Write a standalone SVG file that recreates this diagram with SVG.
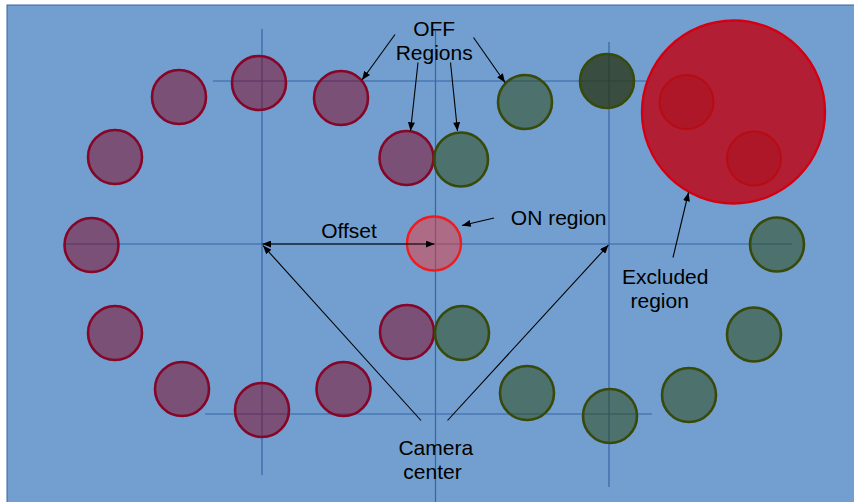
<svg xmlns="http://www.w3.org/2000/svg" width="854" height="502" viewBox="0 0 854 502">
<style>
text{font-family:"Liberation Sans",Arial,sans-serif;font-size:21px;fill:#000}
.ax{stroke:#3465a4;stroke-width:1.2;fill:none}
.off{fill:#82011f;fill-opacity:0.5;stroke:#870526;stroke-width:2.6}
.gr{fill:#2f4a1c;fill-opacity:0.55;stroke:#384a0a;stroke-width:2.6}
.gd{fill:#2a3a1c;fill-opacity:0.8;stroke:#384a0a;stroke-width:2.6}
.on{fill:#e8383b;fill-opacity:0.5;stroke:#ee1c1c;stroke-width:2.4}
.ex{fill:#b5182c;fill-opacity:0.95;stroke:#d40012;stroke-width:2.4}
.exi{fill:#a8101a;fill-opacity:0.5;stroke:#b80c14;stroke-width:2}
.ar{stroke:#000;stroke-width:1.1;fill:none;marker-end:url(#ah)}
</style>
<defs>
<marker id="ah" viewBox="0 0 10 8" refX="10" refY="4" markerWidth="9" markerHeight="7" markerUnits="userSpaceOnUse" orient="auto-start-reverse">
<path d="M0,0 L10,4 L0,8 z" fill="#000"/>
</marker>
</defs>
<rect x="7" y="5" width="860" height="510" fill="#729fcf" stroke="#3465a4" stroke-width="1"/>
<g id="axes">
<line class="ax" x1="262" y1="29" x2="262" y2="475"/>
<line class="ax" x1="435.5" y1="31" x2="435.5" y2="502"/>
<line class="ax" x1="609" y1="42" x2="609" y2="487"/>
<line class="ax" x1="213" y1="81" x2="660" y2="81"/>
<line class="ax" x1="65" y1="244" x2="792" y2="244"/>
<line class="ax" x1="205" y1="414" x2="652" y2="414"/>
</g>
<g id="off-left">
<circle class="off" cx="179" cy="97" r="27"/>
<circle class="off" cx="259" cy="83" r="27"/>
<circle class="off" cx="341" cy="98" r="27"/>
<circle class="off" cx="115" cy="157" r="27"/>
<circle class="off" cx="406.5" cy="158" r="27"/>
<circle class="off" cx="91.5" cy="245" r="27"/>
<circle class="off" cx="115" cy="333" r="27"/>
<circle class="off" cx="182" cy="389" r="27"/>
<circle class="off" cx="262" cy="410" r="27"/>
<circle class="off" cx="343.5" cy="389" r="27"/>
<circle class="off" cx="407" cy="332" r="27"/>
</g>
<g id="off-right">
<circle class="gr" cx="525" cy="102" r="27"/>
<circle class="gd" cx="607" cy="81" r="27"/>
<circle class="gr" cx="461" cy="159.5" r="27"/>
<circle class="gr" cx="777" cy="244.5" r="27"/>
<circle class="gr" cx="462" cy="333" r="27"/>
<circle class="gr" cx="527" cy="393" r="27"/>
<circle class="gr" cx="610" cy="416" r="27"/>
<circle class="gr" cx="689" cy="395" r="27"/>
<circle class="gr" cx="754" cy="334.5" r="27"/>
</g>
<g id="on-region">
<circle class="on" cx="434" cy="243.5" r="27"/>
</g>
<g id="excluded-region">
<circle class="ex" cx="733.5" cy="112" r="91.5"/>
<circle class="exi" cx="686.5" cy="102" r="27"/>
<circle class="exi" cx="754" cy="158.5" r="27"/>
</g>
<g id="connectors">
<line class="ar" x1="395" y1="34.5" x2="362" y2="80"/>
<line class="ar" x1="418" y1="62.5" x2="410.5" y2="131"/>
<line class="ar" x1="450.5" y1="62.5" x2="457.5" y2="131"/>
<line class="ar" x1="473.5" y1="37.5" x2="505" y2="82.5"/>
<line class="ar" x1="494" y1="218" x2="462" y2="225.5"/>
<line class="ar" x1="300" y1="244" x2="434.5" y2="244"/>
<line class="ar" x1="300" y1="244" x2="262.5" y2="244"/>
<line class="ar" x1="421" y1="420.5" x2="263" y2="245.5"/>
<line class="ar" x1="447.5" y1="420.5" x2="608.5" y2="245"/>
<line class="ar" x1="673" y1="257.5" x2="688.5" y2="192.5"/>
</g>
<g id="labels">
<text x="434.2" y="36" text-anchor="middle">OFF</text>
<text x="434.2" y="60" text-anchor="middle">Regions</text>
<text x="349" y="238" text-anchor="middle">Offset</text>
<text x="558.7" y="225" text-anchor="middle">ON region</text>
<text x="665.3" y="284" text-anchor="middle">Excluded</text>
<text x="659.7" y="308" text-anchor="middle">region</text>
<text x="435.8" y="454.5" text-anchor="middle">Camera</text>
<text x="432.5" y="479" text-anchor="middle">center</text>
</g>
</svg>
